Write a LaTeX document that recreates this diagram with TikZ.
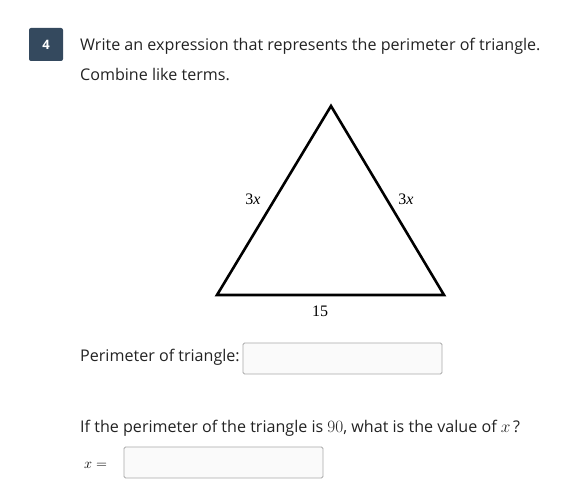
\documentclass[tikz,border=0pt]{standalone}
\usepackage{fontspec}
\setmainfont{Open Sans}
\newfontfamily\trifont{Liberation Serif}
\usepackage{tikz}
\usetikzlibrary{positioning,calc}
\definecolor{badgeblue}{HTML}{34495E}
\definecolor{boxgray}{HTML}{A8A8A8}
\definecolor{boxfill}{HTML}{FAFAFA}
\definecolor{textgray}{HTML}{222222}
\begin{document}
\begin{tikzpicture}[x=1pt,y=-1pt,
  qtext/.style={anchor=base west,inner sep=0pt,text=textgray,font=\fontsize{16.1}{19}\selectfont},
  sidelabel/.style={inner sep=0pt,font=\trifont\fontsize{16}{18}\selectfont},
  answerbox/.style={draw=boxgray,fill=boxfill,rounded corners=1.5pt,line width=0.8pt}]

% Page frame (fixes the size of the picture)
\useasboundingbox (0,0) rectangle (565,502);

% Question number badge
\fill[badgeblue,rounded corners=2pt] (29,28) rectangle (63,61);
\node[text=white,font=\bfseries\fontsize{13}{15}\selectfont] (num) at (46,45) {4};

% Question text
\node[qtext] (line1) at (80,51) {Write an expression that represents the perimeter of triangle.};
\node[qtext] (line2) at (80,81) {Combine like terms.};

% The vertices A,B,C of the triangle
\coordinate (A) at (217,295);
\coordinate (B) at (444,295);
\coordinate (C) at (331,106);

\draw[line width=2.6pt,line join=miter] (A) -- (B) -- (C) -- cycle;

% Side labels
\node[sidelabel] (lab1) at (253,199) {3\textit{x}};
\node[sidelabel] (lab2) at (406,199) {3\textit{x}};
\node[sidelabel] (lab3) at (320,311) {15};

% First answer line
\node[qtext] (per) at (80,362) {Perimeter of triangle:};
\draw[answerbox] (243,343) rectangle (442,374);

% Second question and answer line
\node[qtext] (line3) at (80,432) {If the perimeter of the triangle is $90$, what is the value of $x$\,?};
\node[anchor=base west,inner sep=0pt,font=\fontsize{14}{16}\selectfont] (xeq) at (84,468) {$x=$};
\draw[answerbox] (124,447) rectangle (323,478);
\end{tikzpicture}
\end{document}
